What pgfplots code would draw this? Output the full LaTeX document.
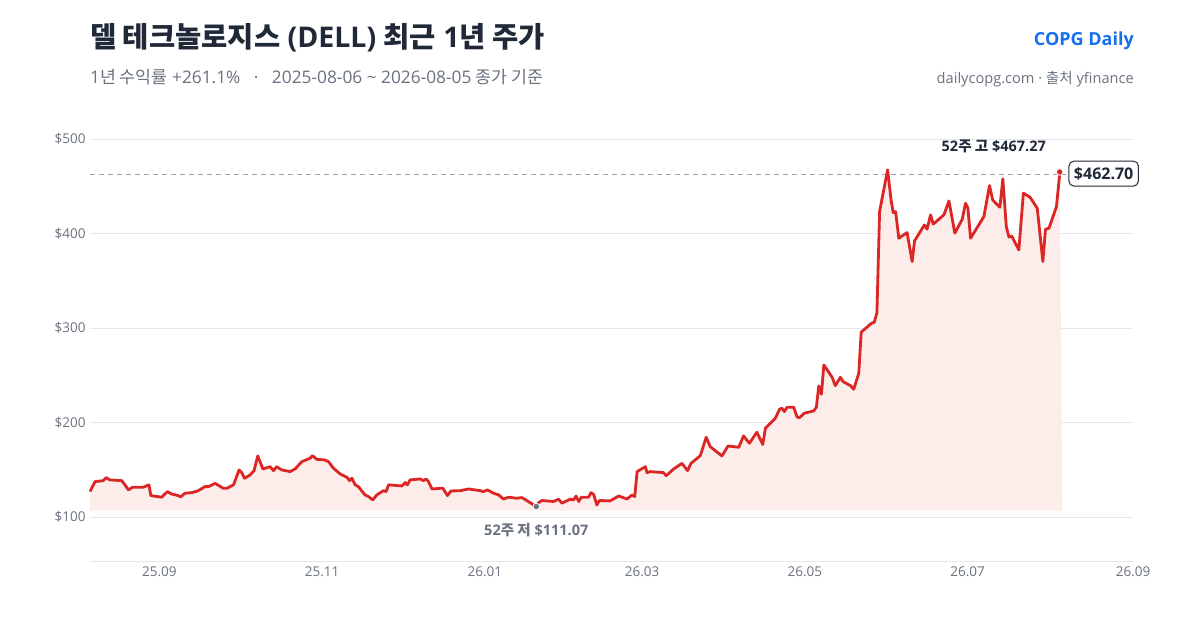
\documentclass[border=0pt]{standalone}
\usepackage{fontspec}
\setmainfont{Open Sans}
\newfontfamily\kr{Noto Sans CJK KR}
\usepackage{pgfplots}
\usepackage{pgfplotstable}
\pgfplotsset{compat=1.18}
\usepgfplotslibrary{fillbetween}

\definecolor{linered}{HTML}{DC2626}
\definecolor{fillred}{HTML}{FCECEA}
\definecolor{txtgray}{HTML}{6B7280}
\definecolor{titlec}{HTML}{1F2937}
\definecolor{gridc}{HTML}{E5E7EB}
\definecolor{dashc}{HTML}{9CA3AF}
\definecolor{copg}{HTML}{1570EF}

% day = days since 2025-08-06, v = close (USD)
\pgfplotstableread{
d v
0 127
1.9 137.4
5 138.4
6 141.6
7.5 139.2
11.9 138.4
13.1 134
14.4 128.6
16 131.5
20 131.5
22.1 134
22.8 122.6
26.9 120.9
29 126.8
30.6 124.3
33.1 122.6
34 121.2
35.6 125.1
38.1 125.7
40.6 127.8
43.1 132.1
44.4 132.1
46.9 135.6
50 130.3
51.3 130.3
53.8 134
55.9 149.8
56.9 146.9
57.9 141
60 144.4
61.5 149
62.9 164.6
64.8 150.8
67.5 153.2
68.8 149
70 153.2
71.9 149.8
75 148
76.9 150.8
79.4 158.5
82.5 162.1
83.4 164.9
85 161
88.1 160.3
89.4 158.5
91.3 151.5
93.8 145.5
96.3 142
97.3 138.4
98.2 141
99.4 134
100.6 132.1
103.1 123.3
104.4 121.6
106 118
107.5 123.3
110 127.8
111 126.8
111.9 134
116.9 132.8
118.2 136.4
119 134
120 139.2
123.8 140.2
125 138.4
126 140.2
126.9 137.4
128.2 129.6
131.3 130.3
132.3 130.3
134 122.6
135.3 127.5
138.8 127.8
141.9 129.6
146.3 127.8
147.5 126.8
149 128.6
151.3 125.1
153.2 123.3
155 119
156.9 120.9
160 119.8
161.9 120.5
162.8 119
167.3 111.07
168.2 115.2
169.4 117.4
173.8 116.4
175.7 118.8
176.9 114.6
180 118.8
181.3 118
182.2 122.2
183.2 116.4
184.2 120.9
186.9 120.9
187.8 125.7
188.8 124
190 112.7
191 117.4
195 117
198.2 122.2
201.3 119
203.2 123.3
204.2 121.6
205.1 148
208.2 153.2
208.8 146.9
210 148
215 146.9
216 143.7
218.8 150.8
221.9 156.7
224 149
225.3 156.7
228.8 164.9
231 184.4
232.5 174.4
236.9 164.6
239.2 175.1
243.2 173.7
245 185.7
247.2 178
250 189.7
252.2 176.7
253.2 193.9
256.9 204.4
258.5 214
259.4 215
260.3 211.5
261.3 216.1
263.8 216.1
265.1 205.5
266 205.2
267.8 209.8
271.3 212.2
272.3 216.1
273.2 238.6
274.2 229.8
275.1 260.8
278.2 247.8
279.4 238.9
281.3 247.8
282.3 243.2
285.1 238.9
286.3 235.1
288.2 252.1
289.1 295.5
293 305
294 306
295 316.2
296 423.1
299 467.27
300.3 435.4
301.1 422
302 423.1
303.2 394.9
306.3 400.9
308.2 370.2
309.1 392.1
312.8 409
313.8 404.5
315.1 419.6
316.1 409.8
320.1 419.6
322 434.4
324.2 400.3
327 415.1
328.2 432
329.1 426.7
330.1 394.9
335.1 417.8
337.2 450.6
338.4 435.4
341.1 427.7
342.2 457.7
343.5 407.2
344.5 396
345.5 397.4
348.2 382.5
349.9 442.6
352.4 438.3
355.1 426.7
357.2 370.2
358.2 404.5
359.5 405.5
362.3 428.4
363.5 462.7
}\price

\begin{document}
\begin{tikzpicture}[x=1pt,y=1pt]
\begin{axis}[
  scale only axis,
  width=1043pt, height=441pt,
  xmin=0, xmax=391,
  ymin=53.4, ymax=520,
  clip=false,
  separate axis lines,
  axis x line*=bottom,
  axis y line*=left,
  x axis line style={gridc, line width=0.8pt, -},
  y axis line style={draw=none},
  major tick length=0pt,
  xtick={26,87,148,207,268,329,391},
  xticklabels={25.09,25.11,26.01,26.03,26.05,26.07,26.09},
  ytick={100,200,300,400,500},
  yticklabels={\$100,\$200,\$300,\$400,\$500},
  ymajorgrids,
  grid style={gridc, line width=0.8pt},
  tick label style={font=\fontsize{13.5}{15}\selectfont, text=txtgray},
  xticklabel style={yshift=-2pt},
  yticklabel style={xshift=-1pt},
]
\coordinate (bl) at (rel axis cs:0,0);
\begin{pgfonlayer}{axis background}
  \fill[white] (rel axis cs:-0.0863,-0.1565) rectangle (rel axis cs:1.0643,1.2722);
\end{pgfonlayer}

\addplot[name path=p, draw=none, forget plot] table[x=d, y=v] {\price};
\addplot[name path=base, draw=none, forget plot] coordinates {(0,106.6) (364.5,106.6)};
\addplot[fillred, forget plot] fill between[of=p and base];

\addplot[dashc, line width=1pt, dash pattern=on 5pt off 4pt] coordinates {(0,462.7) (366,462.7)};

\addplot[linered, line width=2.8pt, line join=round] table[x=d, y=v] {\price};

\addplot[only marks, mark=*, mark size=3.3pt, txtgray, mark options={draw=white, line width=0.8pt}]
  coordinates {(167.3,111.07)};
\addplot[only marks, mark=*, mark size=3.3pt, linered, mark options={draw=white, line width=0.8pt}]
  coordinates {(363.5,465)};

\node[font=\fontsize{14.5}{17}\selectfont\bfseries, text=titlec]
  at (axis cs:338.8,492.6) {52{\kr 주 고} \$467.27};
\node[font=\fontsize{14.5}{17}\selectfont\bfseries, text=txtgray]
  at (axis cs:167.3,86.2) {52{\kr 주 저} \$111.07};
\node[draw=titlec, fill=white, rounded corners=5pt, line width=1pt,
  inner xsep=5pt, inner ysep=6pt,
  font=\fontsize{16}{19}\selectfont\bfseries, text=titlec]
  at (axis cs:380,463.3) {\$462.70};
\end{axis}

% titles, placed from the axis corner (90,69 in page pixels)
\node[anchor=base west, inner sep=0, text=titlec, font=\fontsize{28.5}{32}\selectfont\bfseries]
  at ([shift={(0,513)}]bl) {{\kr 델 테크놀로지스} (DELL) {\kr 최근} 1{\kr 년 주가}};
\node[anchor=base west, inner sep=0, text=txtgray, font=\fontsize{17.3}{20}\selectfont]
  at ([shift={(0,477)}]bl) {1{\kr 년 수익률} +261.1\%\ \ \ ·\ \ \ 2025-08-06 \textasciitilde{} 2026-08-05 {\kr 종가 기준}};
\node[anchor=base east, inner sep=0, text=copg, font=\fontsize{18}{21}\selectfont\bfseries]
  at ([shift={(1044,515)}]bl) {COPG Daily};
\node[anchor=base east, inner sep=0, text=txtgray, font=\fontsize{14.6}{17}\selectfont]
  at ([shift={(1044,477)}]bl) {dailycopg.com · {\kr 출처} yfinance};

\pgfresetboundingbox
\path[use as bounding box] ([shift={(-90,-69)}]bl) rectangle ([shift={(1110,561)}]bl);
\end{tikzpicture}
\end{document}
